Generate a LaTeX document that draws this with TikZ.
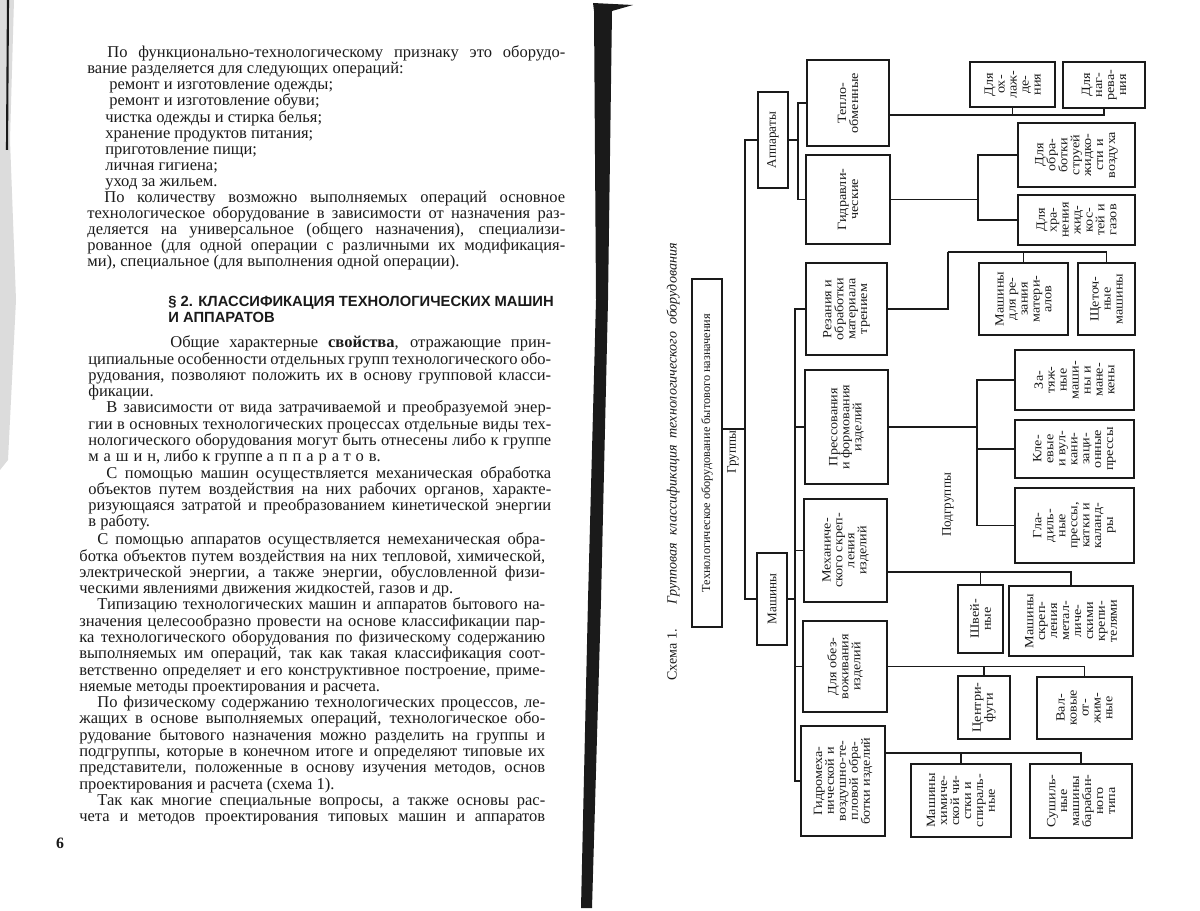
\documentclass[tikz,border=0pt]{standalone}
\usepackage{fontspec}
\setmainfont{Liberation Serif}
\setsansfont{Liberation Sans}
\usetikzlibrary{calc}
\definecolor{scanink}{HTML}{1A1A1A}
\definecolor{scangray}{HTML}{9A9A9A}
\newlength\lw
\newcommand\jl[1]{\makebox[\lw][s]{#1}}
\newcommand\spaced[1]{{\addfontfeatures{LetterSpace=30}#1}}

\begin{document}
\lineskiplimit=-20pt\relax
\lineskip=0pt\relax
\begin{tikzpicture}[
  x=0.02cm,
  y=-0.02cm,
  every node/.style={text=scanink, inner sep=0pt},
  bodytext/.style={anchor=north west, align=left, font=\fontsize{9.4}{9.27}\selectfont},
  grp/.style 2 args={draw=scanink, line width=0.9pt, rotate=90, align=center,
    minimum width={#2*0.02cm}, minimum height={#1*0.02cm}},
  boxfont/.style={font=\fontsize{7.2}{6.8}\selectfont\addfontfeatures{FakeStretch=1.12}},
  link/.style={draw=scanink, line width=0.9pt}
]
  \fill[white] (0,0) rectangle (1200,911);
  \useasboundingbox (0,0) rectangle (1200,911);

  % scan edge and gutter
  \fill[scangray!35] (0,0) -- (14,0) -- (10,140) -- (16,300) -- (8,460) -- (0,470) -- cycle;
  \draw[scanink, line width=1.2pt] (8,0) -- (7,150);
  \fill[scanink] (593,3) -- (633,5) -- (612,11) -- (608,300) -- (601,600) -- (592,908)
    -- (581,908) -- (588,600) -- (596,300) -- (594,11) -- cycle;

  % left page: text
  \setlength\lw{9.56cm}
  \node[bodytext, font=\fontsize{9.4}{9.13}\selectfont] (parA) at (87,45.7) {\strut
    \jl{\hspace*{0.4cm}По функционально-технологическому признаку это оборудо-}\\
    вание разделяется для следующих операций:\\
    \hspace*{0.44cm}ремонт и изготовление одежды;\\
    \hspace*{0.44cm}ремонт и изготовление обуви;\\
    \hspace*{0.36cm}чистка одежды и стирка белья;\\
    \hspace*{0.36cm}хранение продуктов питания;\\
    \hspace*{0.36cm}приготовление пищи;\\
    \hspace*{0.36cm}личная гигиена;\\
    \hspace*{0.36cm}уход за жильем.\\
    \jl{\hspace*{0.34cm}По количеству возможно выполняемых операций основное}\\
    \jl{технологическое оборудование в зависимости от назначения раз-}\\
    \jl{деляется на универсальное (общего назначения), специализи-}\\
    \jl{рованное (для одной операции с различными их модификация-}\\
    ми), специальное (для выполнения одной операции).};

  \node[anchor=north west, align=left, font=\sffamily\bfseries\fontsize{8.4}{9.1}\selectfont]
    (heading) at (168,295) {\strut § 2. КЛАССИФИКАЦИЯ ТЕХНОЛОГИЧЕСКИХ МАШИН\\И АППАРАТОВ};

  \setlength\lw{9.26cm}
  \node[bodytext] (parC) at (88,335.6) {\strut
    \jl{\hspace*{1.64cm}Общие характерные \textbf{свойства}, отражающие прин-}\\
    \jl{ципиальные особенности отдельных групп технологического обо-}\\
    \jl{рудования, позволяют положить их в основу групповой класси-}\\
    фикации.\\
    \jl{\hspace*{0.36cm}В зависимости от вида затрачиваемой и преобразуемой энер-}\\
    \jl{гии в основных технологических процессах отдельные виды тех-}\\
    \jl{нологического оборудования могут быть отнесены либо к группе}\\
    \spaced{машин}, либо к группе \spaced{аппаратов}.\\
    \jl{\hspace*{0.36cm}С помощью машин осуществляется механическая обработка}\\
    \jl{объектов путем воздействия на них рабочих органов, характе-}\\
    \jl{ризующаяся затратой и преобразованием кинетической энергии}\\
    в работу.};

  \setlength\lw{9.32cm}
  \node[bodytext] (parD) at (79,532.6) {\strut
    \jl{\hspace*{0.36cm}С помощью аппаратов осуществляется немеханическая обра-}\\
    \jl{ботка объектов путем воздействия на них тепловой, химической,}\\
    \jl{электрической энергии, а также энергии, обусловленной физи-}\\
    ческими явлениями движения жидкостей, газов и др.\\
    \jl{\hspace*{0.36cm}Типизацию технологических машин и аппаратов бытового на-}\\
    \jl{значения целесообразно провести на основе классификации пар-}\\
    \jl{ка технологического оборудования по физическому содержанию}\\
    \jl{выполняемых им операций, так как такая классификация соот-}\\
    \jl{ветственно определяет и его конструктивное построение, приме-}\\
    няемые методы проектирования и расчета.\\
    \jl{\hspace*{0.36cm}По физическому содержанию технологических процессов, ле-}\\
    \jl{жащих в основе выполняемых операций, технологическое обо-}\\
    \jl{рудование бытового назначения можно разделить на группы и}\\
    \jl{подгруппы, которые в конечном итоге и определяют типовые их}\\
    \jl{представители, положенные в основу изучения методов, основ}\\
    проектирования и расчета (схема 1).\\
    \jl{\hspace*{0.36cm}Так как многие специальные вопросы, а также основы рас-}\\
    \jl{чета и методов проектирования типовых машин и аппаратов}};

  \node[font=\bfseries\fontsize{9}{10}\selectfont] (pagenum) at (60,843) {6};

  % right page: caption
  \node[rotate=90, font=\fontsize{8}{9}\selectfont] (caption) at (673,462)
    {Схема 1.\hspace{0.5cm}\textit{Групповая\ \ классификация\ \ технологического\ \ оборудования}};

  % root and groups
  \node[grp={30}{348}, font=\fontsize{7}{8}\selectfont] (tech) at (707,453)
    {Технологическое оборудование бытового назначения};
  \node[rotate=90, font=\fontsize{7.5}{8}\selectfont] (groups) at (733,452) {Группы};
  \node[grp={30}{96}, font=\fontsize{7.5}{8}\selectfont] (appar) at (773,140) {Аппараты};
  \node[grp={30}{92}, font=\fontsize{7.5}{8}\selectfont] (mash) at (772,599) {Машины};

  % groups of apparatus and machines
  \node[grp={82}{86}, boxfont] (teplo) at (848,103) {Тепло-\\обменные};
  \node[grp={84}{89}, boxfont] (gidr) at (848,199.5) {Гидравли-\\ческие};
  \node[grp={81}{92}, boxfont] (rez) at (846.5,309) {Резания и\\обработки\\материала\\трением};
  \node[grp={83}{114}, boxfont] (press) at (846.5,427) {Прессования\\и формования\\изделий};
  \node[grp={83}{103}, boxfont] (mech) at (845.5,550.5) {Механиче-\\ского скреп-\\ления\\изделий};
  \node[grp={84}{91}, boxfont] (obez) at (845,666.5) {Для обез-\\воживания\\изделий};
  \node[grp={84}{110}, boxfont] (gidromech) at (843,781)
    {Гидромеха-\\нической и\\воздушно-те-\\пловой обра-\\ботки изделий};

  \node[rotate=90, font=\fontsize{7.5}{8}\selectfont] (subgroups) at (948,505) {Подгруппы};

  % subgroups
  \node[grp={85}{45}, boxfont] (cool) at (1012.5,84.5) {Для\\ох-\\лаж-\\де-\\ния};
  \node[grp={82}{46}, boxfont] (heat) at (1104,85) {Для\\наг-\\рева-\\ния};
  \node[grp={117}{64}, boxfont] (jet) at (1076.5,155) {Для\\обра-\\ботки\\струей\\жидко-\\сти и\\воздуха};
  \node[grp={117}{50}, boxfont] (store) at (1076.5,220) {Для\\хра-\\нения\\жид-\\кос-\\тей и\\газов};
  \node[grp={89}{72}, boxfont] (cut) at (1023.5,299) {Машины\\для ре-\\зания\\матери-\\алов};
  \node[grp={57}{72}, boxfont] (brush) at (1106.5,299) {Щеточ-\\ные\\машины};
  \node[grp={119}{60}, boxfont] (last) at (1074.5,380) {За-\\тяж-\\ные\\маши-\\ны и\\мане-\\кены};
  \node[grp={119}{58}, boxfont] (glue) at (1074.5,449) {Кле-\\евые\\и вул-\\кани-\\заци-\\онные\\прессы};
  \node[grp={119}{75}, boxfont] (iron) at (1074.5,525.5) {Гла-\\диль-\\ные\\прессы,\\катки и\\каланд-\\ры};
  \node[grp={45}{68}, boxfont] (sew) at (980.5,619) {Швей-\\ные};
  \node[grp={124}{70}, boxfont] (rivet) at (1071,621) {Машины\\скреп-\\ления\\метал-\\личе-\\скими\\крепи-\\телями};
  \node[grp={52}{63}, boxfont] (centr) at (984,707.5) {Центри-\\фуги};
  \node[grp={95}{62}, boxfont] (roll) at (1084.5,708) {Вал-\\ковые\\от-\\жим-\\ные};
  \node[grp={100}{73}, boxfont] (dryclean) at (961,800.5) {Машины\\химиче-\\ской чи-\\стки и\\спираль-\\ные};
  \node[grp={102}{74}, boxfont] (dryer) at (1081,801) {Сушиль-\\ные\\машины\\барабан-\\ного\\типа};

  % connectors: groups
  \draw[link] ($(tech.south)+(0,-24)$) -- ++(22,0) coordinate (techj);
  \draw[link] (appar.north) -| (techj) |- (mash.north);
  \draw[link] (appar.south) -- ++(9,0) coordinate (apparj);
  \draw[link] (teplo.north) -| (apparj) |- (gidr.north);
  \draw[link] (mash.south) -- ++(7,0) coordinate (mashj);
  \draw[link] (rez.north) -| (mashj) |- (gidromech.north);
  \draw[link] (mashj) |- (press.north);
  \draw[link] (mashj) |- (mech.north);
  \draw[link] (mashj) |- (obez.north);

  % connectors: subgroups
  \draw[link] ($(teplo.south)+(0,12)$) coordinate (teploj) -| (heat.west);
  \draw[link] (teploj) -| (cool.west);
  \draw[link] (gidr.south) -- ++(87,0) coordinate (gidrj);
  \draw[link] (jet.north) -| (gidrj) |- (store.north);
  \draw[link] (rez.south) -- ++(60,0) -- ++(0,-57) coordinate (rezj);
  \draw[link] (rezj) -| (cut.east);
  \draw[link] (rezj) -| (brush.east);
  \draw[link] (press.south) -- ++(88,0) coordinate (pressj);
  \draw[link] (last.north) -| (pressj) |- (iron.north);
  \draw[link] (pressj) |- (glue.north);
  \draw[link] ($(mech.south)+(0,21.5)$) coordinate (mechj) -| (rivet.east);
  \draw[link] (mechj) -| (sew.east);
  \draw[link] (obez.south) -| (roll.east);
  \draw[link] (obez.south) -| (centr.east);
  \draw[link] ($(gidromech.south)+(0,-28)$) coordinate (gidromechj) -| (dryer.east);
  \draw[link] (gidromechj) -| (dryclean.east);
\end{tikzpicture}
\end{document}
